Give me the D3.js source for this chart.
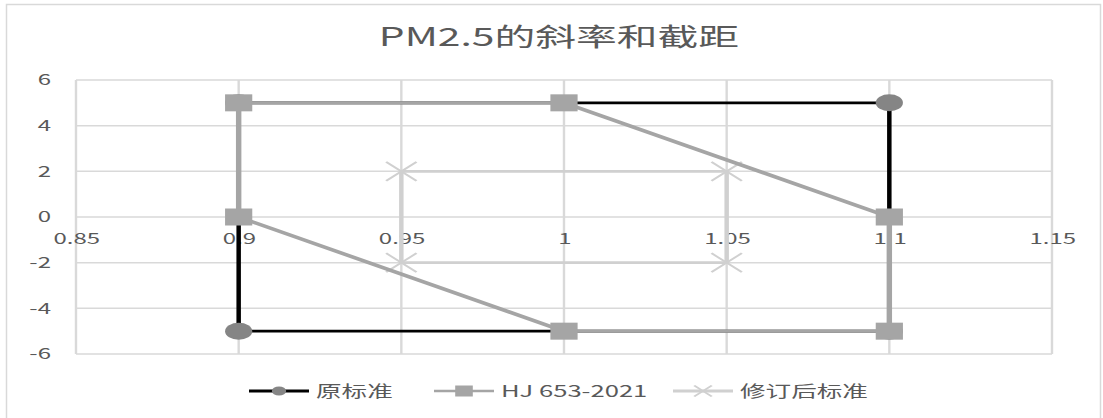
<!DOCTYPE html>
<html>
<head>
<meta charset="utf-8">
<script src="https://cdn.jsdelivr.net/npm/d3@7"></script>
<style>
  html, body { margin: 0; padding: 0; background: #fff; }
  svg { display: block; }
  text { font-family: "Noto Sans CJK SC", "Noto Sans", sans-serif; fill: #595959; }
</style>
</head>
<body>
<svg id="chart" width="1103" height="418"></svg>
<script>
// Series data: slope (x) vs intercept (y)
const seriesNames = ["原标准", "HJ 653-2021", "修订后标准"];
const origX = [0.9, 1.1, 1.1, 0.9, 0.9];
const origY = [-5, -5, 5, 5, -5];
const hjX = [0.9, 0.9, 1.0, 1.1, 1.1, 1.0, 0.9];
const hjY = [0, 5, 5, 0, -5, -5, 0];
const revX = [0.95, 1.05, 1.05, 0.95, 0.95];
const revY = [2, 2, -2, -2, 2];

const xTicks = [0.85, 0.9, 0.95, 1, 1.05, 1.1, 1.15];
const yTicks = [-6, -4, -2, 0, 2, 4, 6];
const titleText = "PM2.5的斜率和截距";

// The chart is drawn in a horizontally stretched frame
const SX = 1.6;
const plot = { left: 76, right: 1052, top: 80, bottom: 354 };
const fmt = d => String(d);

const svg = d3.select("#chart");

// outer chart frame
svg.append("rect")
  .attr("x", 6.5).attr("y", 4.5)
  .attr("width", 1094).attr("height", 440)
  .attr("fill", "#fff")
  .attr("stroke", "#d9d9d9").attr("stroke-width", 1.5);

const g = svg.append("g").attr("transform", `scale(${SX},1)`);

const x = d3.scaleLinear().domain([0.85, 1.15]).range([plot.left / SX, plot.right / SX]);
const y = d3.scaleLinear().domain([-6, 6]).range([plot.bottom, plot.top]);

// gridlines
const grid = g.append("g").attr("stroke", "#d9d9d9").attr("stroke-width", 1.5);
grid.selectAll("line.h").data(yTicks).join("line")
  .attr("class", "h")
  .attr("x1", x(0.85)).attr("x2", x(1.15))
  .attr("y1", d => y(d)).attr("y2", d => y(d));
grid.selectAll("line.v").data(xTicks).join("line")
  .attr("class", "v")
  .attr("x1", d => x(d)).attr("x2", d => x(d))
  .attr("y1", y(6)).attr("y2", y(-6));

// y axis labels
const yAxis = g.append("g")
  .attr("transform", `translate(${x(0.85)},0)`)
  .call(d3.axisLeft(y).tickValues(yTicks).tickSize(0).tickPadding(25 / SX).tickFormat(fmt));
yAxis.select(".domain").remove();
yAxis.selectAll("text").attr("font-size", 15).attr("fill", "#595959")
  .style("font-family", '"Noto Sans CJK SC", "Noto Sans", sans-serif');

// x axis labels, sitting below the zero line
const xAxis = g.append("g")
  .attr("transform", `translate(0,${y(0)})`)
  .call(d3.axisBottom(x).tickValues(xTicks).tickSize(0).tickFormat(fmt));
xAxis.select(".domain").remove();
xAxis.selectAll("text").attr("font-size", 15).attr("fill", "#595959")
  .attr("y", 22).attr("dy", "0.35em")
  .style("font-family", '"Noto Sans CJK SC", "Noto Sans", sans-serif');

const line = d3.line().x(d => x(d[0])).y(d => y(d[1]));
const zipPts = (xs, ys) => xs.map((v, i) => [v, ys[i]]);

const series = [
  { name: seriesNames[2], pts: zipPts(revX, revY), color: "#d0d0d0", width: 2.8, marker: "x" },
  { name: seriesNames[0], pts: zipPts(origX, origY), color: "#000000", width: 2.8, marker: "circle" },
  { name: seriesNames[1], pts: zipPts(hjX, hjY), color: "#a5a5a5", width: 3.4, marker: "square" }
];

function drawMarker(sel, type, size) {
  if (type === "circle") {
    sel.append("circle").attr("r", size / 2).attr("fill", "#858585");
  } else if (type === "square") {
    sel.append("rect").attr("x", -size / 2).attr("y", -size / 2)
      .attr("width", size).attr("height", size).attr("fill", "#a5a5a5");
  } else {
    const h = size / 2;
    sel.append("path").attr("d", `M${-h},${-h}L${h},${h}M${-h},${h}L${h},${-h}`)
      .attr("stroke", "#d0d0d0").attr("stroke-width", 1.6).attr("fill", "none");
  }
}

const markerSize = { circle: 17, square: 17, x: 19 };

series.forEach(s => {
  const sg = g.append("g");
  sg.append("path").datum(s.pts).attr("d", line)
    .attr("fill", "none").attr("stroke", s.color).attr("stroke-width", s.width)
    .attr("stroke-linejoin", "round");
  const uniq = s.pts.slice(0, -1);
  uniq.forEach(p => {
    const m = sg.append("g").attr("transform", `translate(${x(p[0])},${y(p[1])})`);
    drawMarker(m, s.marker, markerSize[s.marker]);
  });
});

// title
g.append("text")
  .attr("x", 559 / SX).attr("y", 46)
  .attr("text-anchor", "middle")
  .attr("font-size", 25.5)
  .text(titleText);

// legend
const legendItems = [
  { name: seriesNames[0], color: "#000000", width: 3, marker: "circle", x0: 249, size: 9 },
  { name: seriesNames[1], color: "#a5a5a5", width: 2.6, marker: "square", x0: 434, size: 11 },
  { name: seriesNames[2], color: "#d0d0d0", width: 2.8, marker: "x", x0: 673, size: 11 }
];
const legendY = 391;
legendItems.forEach(it => {
  const lg = g.append("g").attr("transform", `translate(${it.x0 / SX},${legendY})`);
  const len = 60 / SX;
  lg.append("line").attr("x1", 0).attr("x2", len).attr("y1", 0).attr("y2", 0)
    .attr("stroke", it.color).attr("stroke-width", it.width);
  const m = lg.append("g").attr("transform", `translate(${len / 2},0)`);
  drawMarker(m, it.marker, it.size);
  lg.append("text").attr("x", len + 7 / SX).attr("y", 0).attr("dy", "0.35em")
    .attr("font-size", 16).text(it.name);
});
</script>
</body>
</html>
